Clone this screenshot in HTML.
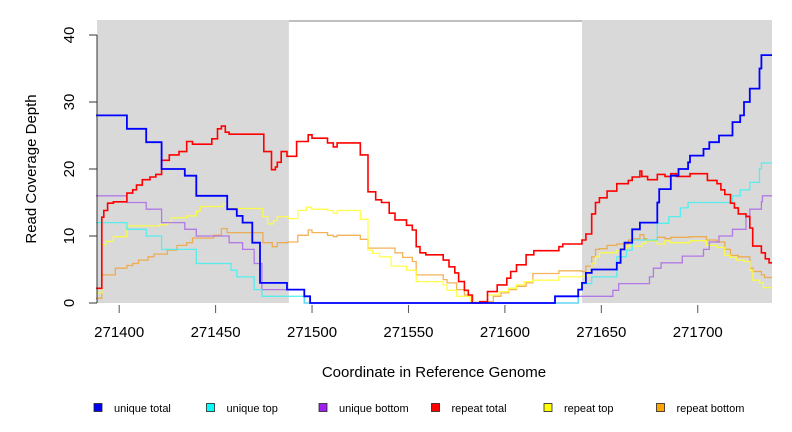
<!DOCTYPE html>
<html><head><meta charset="utf-8">
<style>
html,body{margin:0;padding:0;background:#fff;}
svg{display:block;font-family:"Liberation Sans",sans-serif;}
</style></head>
<body>
<svg id="chart" width="792" height="432" viewBox="0 0 792 432" xmlns="http://www.w3.org/2000/svg">
<g id="bg"></g>
<g id="series"></g>
<g id="axes"></g>
<text x="434" y="377" font-size="15" text-anchor="middle">Coordinate in Reference Genome</text>
<text transform="translate(36,169) rotate(-90)" font-size="15" text-anchor="middle">Read Coverage Depth</text>
<g id="legend"></g>
</svg>
<script>
const xDomain=[271388.5,271738.5];
const yDomain=[0,40];
const xTicks=[271400,271450,271500,271550,271600,271650,271700];
const yTicks=[0,10,20,30,40];
const shadedRegions=[[271388.5,271488],[271640,271738.5]];
const seriesNames=["unique total","unique top","unique bottom","repeat total","repeat top","repeat bottom"];

const uniqueTotalX=[271388,271404,271414,271422,271434,271440,271456,271461,271464,271469,271473,271487,271496,271499,271626,271638,271640,271642,271645,271658,271660,271662,271666,271670,271679,271680,271686,271690,271695,271696,271703,271706,271711,271718,271722,271724,271727,271732,271733];
const uniqueTotalY=[28,26,24,20,19,16,14,13,12,9,3,2,1,0,1,2,3,4.5,5,6,8,9,11,12,15,17,19,20,21,22,23,24,25,27,28,30,32,35,37];

const uniqueTopX=[271388,271404,271414,271422,271440,271458,271461,271470,271474,271496,271638,271640,271645,271658,271663,271666,271679,271685,271691,271695,271718,271722,271727,271732,271733];
const uniqueTopY=[12,11,10,8,5.9,4.9,3.9,2,1,0,2,2.9,3.9,6.9,7.9,9.4,11.9,12.9,14.2,15,16,16.9,18,20,20.9];

const uniqueBottomX=[271388,271404,271414,271422,271434,271440,271457,271464,271470,271474,271496,271638,271656,271659,271675,271677,271681,271692,271703,271706,271711,271718,271725,271727,271733,271733.5];
const uniqueBottomY=[16,15,14,12,11,10,9,8,5.9,2,0,1,1.9,2.9,3.9,5.2,6,7,8,9.1,10,11,13,14,15.1,16];

const repeatTotalX=[271388,271391,271392,271394,271397,271404,271407,271409,271412,271416,271419,271422,271426,271431,271435,271438,271448,271451,271453,271455,271457,271475,271479,271481,271482,271484,271487,271492,271498,271500,271508,271511,271513,271525,271529,271533,271536,271540,271543,271549,271552,271554,271556,271559,271568,271571,271574,271576,271579,271581,271583,271587,271591,271596,271601,271603,271606,271611,271615,271628,271630,271640,271642,271645,271647,271649,271653,271658,271664,271666,271670,271671,271674,271679,271683,271686,271689,271696,271705,271710,271712,271714,271717,271719,271721,271725,271727,271728.5,271733,271735,271737];
const repeatTotalY=[2.2,12.8,13.8,14.9,15.1,16.4,16.9,17.6,18.4,18.8,19.2,21.3,22.1,22.6,24.1,23.7,24.5,26,26.4,25.5,25.2,22.6,19.9,20.3,21,22.6,21.9,24.1,25.1,24.6,23.9,23.3,23.9,22.1,16.6,15.4,15,13.4,12.4,11.6,10.9,8.4,7.5,7.2,6.4,5.4,4.5,3.2,1.9,1.2,0,0.2,1.7,2.7,3.7,4.7,5.7,7.2,7.8,8.4,8.8,9.4,10.3,13.3,15,15.7,16.7,17.8,18.3,18.8,19.7,18.9,18.4,19.2,18.9,19.3,18.9,19.3,18.3,17.8,16.9,16.2,14.9,14.2,13.3,12.9,11.2,8.5,7.5,6.6,6];

const repeatTopX=[271388,271391,271393,271397,271404,271421,271425,271427,271435,271440,271442,271454,271456,271474.5,271477,271480,271482,271487.5,271492.6,271497,271499.6,271508,271511,271513,271525,271529,271531.5,271535,271541,271549,271554,271568,271570,271575,271582,271583.4,271591,271597,271602,271606,271610,271614.5,271628,271639.6,271643,271645,271647,271649,271658,271659.5,271663,271671,271673,271679,271683,271685.5,271696,271704.5,271710,271714,271717,271720,271724,271727,271728.6,271732,271734];
const repeatTopY=[1.5,8.7,9.2,9.9,11.5,11.7,12,12.7,13,13.7,14.4,14.8,14.1,12.9,11.8,12.3,12.9,12.6,13.8,14.3,14,13.8,13.4,13.8,12.5,7.9,7.4,6.9,5.5,4.9,3.2,2.7,1.9,1,0.2,0,1.2,1.7,2.2,2.7,3.2,3.4,3.9,4,4.6,5.9,6.9,7.5,7.8,8.1,8.5,8.9,9.3,8.8,9.3,9,9.3,8.6,8.3,7.1,6.8,6.4,6.2,4.9,3.4,3,2.3];

const repeatBottomX=[271388,271391,271398,271404,271407,271410,271415,271418,271425,271430,271435,271438,271449,271453,271456,271474.5,271479.4,271482,271487.5,271492.6,271498,271500,271508,271511,271513,271525,271529,271543,271547,271552,271554,271568,271570,271575,271579,271583.4,271587,271594,271598,271602,271606,271611,271614.5,271628,271639.6,271642,271645,271647,271649,271653,271658,271664,271666,271670,271672,271673.4,271679,271683,271686,271696,271704.5,271710,271714,271717,271721,271727,271728.6,271733,271734.7];
const repeatBottomY=[0.7,4.2,5.2,5.6,5.9,6.4,6.9,7.3,7.9,8.6,9,9.7,10.1,11.1,10.5,9,8.4,9,9.1,10.1,10.9,10.5,10.1,9.9,10.1,9.5,8.2,7.5,6.8,6.2,4.2,3.5,3,2,1.2,0.1,0.2,1,1.5,2,2.5,3,4.4,4.8,4.7,5.5,6.9,8,8.1,8.6,8.8,9.4,9.6,10.2,9.6,9.3,9.8,9.6,9.8,9.9,9.4,9.1,8,7.1,6.9,5.2,4.7,4.2,3.8];

const PX0=97,PX1=772,PY0=303,PY1=35;
function sx(v){return PX0+(v-xDomain[0])/(xDomain[1]-xDomain[0])*(PX1-PX0);}
function sy(v){return PY0-(v-yDomain[0])/(yDomain[1]-yDomain[0])*(PY0-PY1);}
const NS="http://www.w3.org/2000/svg";
function mk(tag,attrs,parent){const e=document.createElementNS(NS,tag);for(const k in attrs)e.setAttribute(k,attrs[k]);parent.appendChild(e);return e;}

const bg=document.getElementById('bg');
shadedRegions.forEach(r=>{
  const e=mk('rect',{x:sx(r[0]),y:20,width:sx(r[1])-sx(r[0]),height:PY0-20,fill:'#d9d9d9'},bg);
  
  
});
const topLine=mk('line',{x1:sx(shadedRegions[0][1]),x2:sx(shadedRegions[1][0]),y1:21,y2:21,stroke:'#999',"stroke-width":1.2},bg);



const seriesDefs=[
 [repeatBottomX,repeatBottomY,'#f0a030',1.3,0.8],
 [repeatTopX,repeatTopY,'#ffff30',1.3,0.85],
 [uniqueBottomX,uniqueBottomY,'#a860e8',1.3,0.8],
 [uniqueTopX,uniqueTopY,'#40f0f0',1.3,0.85],
 [repeatTotalX,repeatTotalY,'#ff0000',1.6,1],
 [uniqueTotalX,uniqueTotalY,'#0000ff',1.8,1]
];
const seriesSlug=['repeat-bottom-line','repeat-top-line','unique-bottom-line','unique-top-line','repeat-total-line','unique-total-line'];
const sg=document.getElementById('series');
seriesDefs.forEach((s,k)=>{
  const xs=s[0],ys=s[1];
  let d='M'+sx(xs[0]).toFixed(1)+','+sy(ys[0]).toFixed(1);
  for(let i=1;i<xs.length;i++){
    d+='H'+sx(xs[i]).toFixed(1)+'V'+sy(ys[i]).toFixed(1);
  }
  d+='H'+sx(xDomain[1]).toFixed(1);
  const p=mk('path',{d:d,fill:'none',stroke:s[2],"stroke-width":s[3],"stroke-opacity":s[4]},sg);
  
  
});

const ax=document.getElementById('axes');
const yl=mk('line',{x1:97,x2:97,y1:sy(yTicks[0]),y2:sy(yTicks[yTicks.length-1]),stroke:'#333',"stroke-width":1},ax);


yTicks.forEach(t=>{
  const tl=mk('line',{x1:89,x2:97,y1:sy(t),y2:sy(t),stroke:'#333',"stroke-width":1},ax);
  
  
  const tx=mk('text',{transform:'translate(74,'+sy(t)+') rotate(-90)',"font-size":15,"text-anchor":"middle"},ax);
  tx.textContent=String(t);
  
  
});
xTicks.forEach(t=>{
  const tl=mk('line',{x1:sx(t),x2:sx(t),y1:305,y2:313,stroke:'#555',"stroke-width":1},ax);
  
  
  const tx=mk('text',{x:sx(t),y:337,"font-size":15,"text-anchor":"middle"},ax);
  tx.textContent=String(t);
  
  
});

const legendColors=['#0000ff','#00ffff','#a020f0','#ff0000','#ffff00','#ffa500'];
const lg=document.getElementById('legend');
seriesNames.forEach((n,i)=>{
  const x=94+i*112.5;
  const r=mk('rect',{x:x,y:403.5,width:8,height:8,fill:legendColors[i],stroke:'#222',"stroke-width":0.8},lg);
  
  
  const t=mk('text',{x:x+20,y:412,"font-size":11},lg);
  t.textContent=n;
  
  
});
</script>
</body></html>
